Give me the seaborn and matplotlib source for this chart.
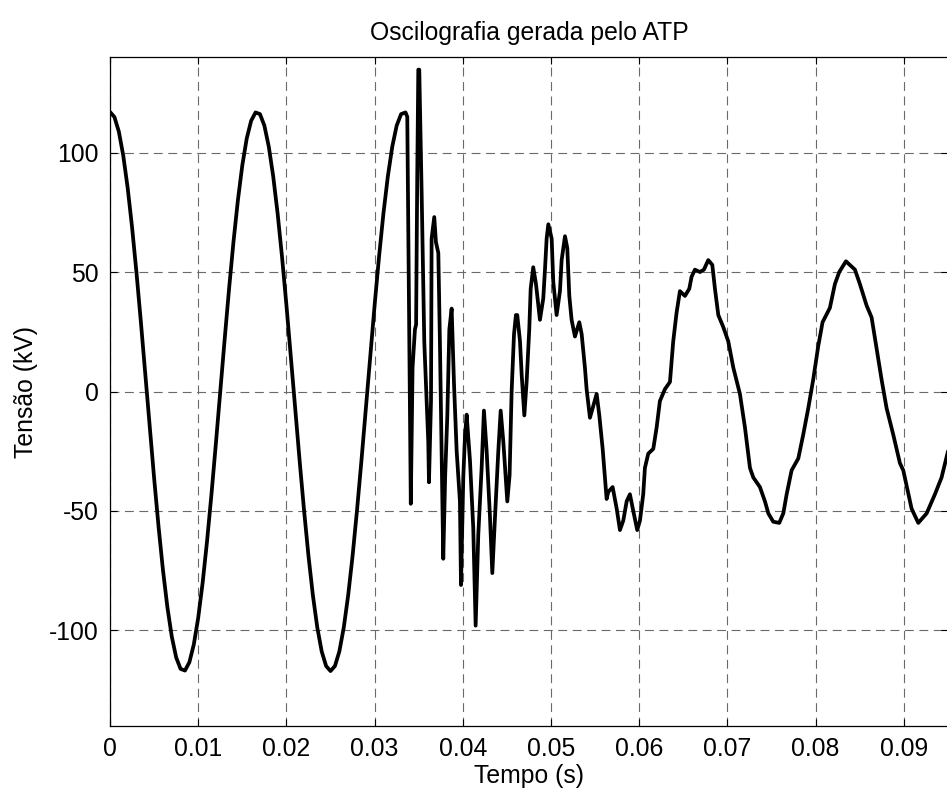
import matplotlib
matplotlib.use("Agg")
import matplotlib.pyplot as plt
import seaborn as sns
import pandas as pd

# ---- data ----
# steady-state part (0 .. 0.0335 s), sampled every 0.5 ms
t_pre = [0.0000, 0.0005, 0.0010, 0.0015, 0.0020, 0.0025, 0.0030, 0.0035, 0.0040, 0.0045,
         0.0050, 0.0055, 0.0060, 0.0065, 0.0070, 0.0075, 0.0080, 0.0085, 0.0090, 0.0095,
         0.0100, 0.0105, 0.0110, 0.0115, 0.0120, 0.0125, 0.0130, 0.0135, 0.0140, 0.0145,
         0.0150, 0.0155, 0.0160, 0.0165, 0.0170, 0.0175, 0.0180, 0.0185, 0.0190, 0.0195,
         0.0200, 0.0205, 0.0210, 0.0215, 0.0220, 0.0225, 0.0230, 0.0235, 0.0240, 0.0245,
         0.0250, 0.0255, 0.0260, 0.0265, 0.0270, 0.0275, 0.0280, 0.0285, 0.0290, 0.0295,
         0.0300, 0.0305, 0.0310, 0.0315, 0.0320, 0.0325, 0.0330, 0.0335]
v_pre = [117.0, 114.9, 108.8, 98.8, 85.3, 68.8, 49.8, 29.1, 7.3, -14.7,
         -36.2, -56.4, -74.6, -90.1, -102.5, -111.3, -116.1, -116.8, -113.3, -105.9,
         -94.7, -80.1, -62.7, -43.1, -21.9, 0.0, 21.9, 43.1, 62.7, 80.1,
         94.7, 105.9, 113.3, 116.8, 116.1, 111.3, 102.5, 90.1, 74.6, 56.4,
         36.2, 14.7, -7.3, -29.1, -49.8, -68.8, -85.3, -98.8, -108.8, -114.9,
         -117.0, -114.9, -108.8, -98.8, -85.3, -68.8, -49.8, -29.1, -7.3, 14.7,
         36.2, 56.4, 74.6, 90.1, 102.5, 111.3, 116.1, 116.8]

# fault transient (0.0337 .. 0.095 s)
t_post = [0.0337, 0.0341, 0.0343, 0.03457, 0.0347, 0.03483, 0.03495, 0.03506, 0.03533, 0.03563,
          0.03585, 0.03608, 0.03616, 0.03639, 0.03646, 0.03676, 0.03695, 0.03722, 0.0374, 0.03778,
          0.0380, 0.03824, 0.03847, 0.03873, 0.0390, 0.0393, 0.03967, 0.03979, 0.04005, 0.04024,
          0.04043, 0.04081, 0.04118, 0.04145, 0.04175, 0.04213, 0.04239, 0.0427, 0.04307, 0.04334,
          0.04364, 0.04402, 0.04429, 0.04459, 0.04504, 0.0453, 0.04553, 0.04580, 0.04602, 0.04617,
          0.04648, 0.04667, 0.04697, 0.04723, 0.04753, 0.04769, 0.04798, 0.04829, 0.04874, 0.04912,
          0.04931, 0.0495, 0.04969, 0.05007, 0.05025, 0.05063, 0.05101, 0.0512, 0.05158, 0.05184,
          0.05207, 0.05233, 0.05271, 0.0532, 0.05347, 0.05384, 0.05403, 0.05441, 0.05479, 0.05517,
          0.05547, 0.05585, 0.05611, 0.0563, 0.05649, 0.05698, 0.05744, 0.05781, 0.05819, 0.05857,
          0.05894, 0.05932, 0.05977, 0.06008, 0.06045, 0.06064, 0.06102, 0.06159, 0.06197, 0.06234,
          0.06291, 0.06348, 0.06385, 0.06423, 0.06461, 0.06518, 0.06567, 0.06593, 0.06631, 0.06688,
          0.06733, 0.06782, 0.06828, 0.06858, 0.06896, 0.06952, 0.07009, 0.07066, 0.07141, 0.07198,
          0.07255, 0.07293, 0.07368, 0.07425, 0.07463, 0.07519, 0.07587, 0.07633, 0.07671, 0.07727,
          0.07803, 0.07859, 0.07916, 0.07972, 0.08029, 0.08078, 0.08161, 0.08218, 0.08267, 0.08343,
          0.08445, 0.08501, 0.08577, 0.08634, 0.08691, 0.08747, 0.08804, 0.08879, 0.08955, 0.08993,
          0.09087, 0.09163, 0.09258, 0.09352, 0.09427, 0.0950]
v_post = [115.0, -47.0, 10.0, 26.0, 28.0, 90.0, 134.7, 134.7, 83.0, 20.6,
          0.0, -21.0, -38.0, -4.0, 64.0, 73.0, 62.5, 58.0, 21.0, -70.0,
          -35.0, -10.0, 26.0, 34.7, 3.0, -25.0, -46.0, -81.0, -36.0, -19.0,
          -9.7, -29.0, -57.0, -98.0, -60.0, -32.0, -8.0, -25.0, -52.0, -76.0,
          -53.0, -25.0, -8.0, -21.0, -46.0, -35.0, 0.0, 24.0, 32.0, 32.0,
          21.0, 7.0, -10.0, 4.0, 26.0, 43.0, 52.0, 45.0, 30.0, 39.0,
          51.0, 64.0, 70.0, 64.0, 46.0, 32.0, 42.0, 55.0, 65.0, 60.0,
          40.0, 30.0, 23.0, 29.0, 24.0, 10.0, 1.0, -11.0, -6.0, -1.0,
          -10.0, -24.0, -36.0, -45.0, -42.0, -40.0, -49.0, -58.0, -54.0, -46.0,
          -43.0, -50.0, -58.0, -54.0, -43.0, -32.0, -26.0, -24.0, -15.0, -4.0,
          1.0, 4.0, 21.0, 33.0, 42.0, 40.0, 43.0, 48.0, 51.0, 50.0,
          51.0, 55.0, 53.0, 43.0, 32.0, 27.0, 21.0, 10.0, -1.0, -15.0,
          -32.0, -36.0, -40.0, -46.0, -51.0, -54.5, -55.0, -51.0, -43.0, -33.0,
          -28.0, -18.0, -7.0, 5.0, 19.0, 29.0, 35.0, 45.0, 50.0, 54.5,
          51.0, 45.0, 36.0, 31.0, 18.0, 5.0, -7.0, -18.0, -30.0, -33.0,
          -49.0, -55.0, -51.0, -43.0, -36.0, -25.0]

x_ticks = [0.0, 0.01, 0.02, 0.03, 0.04, 0.05, 0.06, 0.07, 0.08, 0.09]
x_tick_labels = ["0", "0.01", "0.02", "0.03", "0.04", "0.05", "0.06", "0.07", "0.08", "0.09"]
y_ticks = [-100, -50, 0, 50, 100]
y_tick_labels = ["-100", "-50", "0", "50", "100"]

title = "Oscilografia gerada pelo ATP"
x_label = "Tempo (s)"
y_label = "Tensão (kV)"

# ---- figure ----
sns.set_style("white")
plt.rcParams["font.family"] = ["Liberation Sans", "DejaVu Sans"]
plt.rcParams["xtick.direction"] = "in"
plt.rcParams["ytick.direction"] = "in"

df = pd.DataFrame({"t": t_pre + t_post, "v": v_pre + v_post})

W, H = 947, 793
fig = plt.figure(figsize=(W / 100, H / 100), dpi=100)
left, right, top, bottom = 110, 948, 57, 726
ax = fig.add_axes([left / W, (H - bottom) / H, (right - left) / W, (bottom - top) / H])

sns.lineplot(data=df, x="t", y="v", ax=ax, color="black", linewidth=2.7,
             estimator=None, sort=False, zorder=3)

ax.set_xlim(0, 0.095)
ax.set_ylim(-140, 140)
ax.set_xticks(x_ticks)
ax.set_xticklabels(x_tick_labels)
ax.set_yticks(y_ticks)
ax.set_yticklabels(y_tick_labels)

fs = 17.8
ax.tick_params(axis="both", which="major", labelsize=fs, length=5, width=0.8,
               color="black", labelcolor="black", top=True, right=True,
               bottom=True, left=True, pad=8)
for s in ax.spines.values():
    s.set_visible(True)
    s.set_color("black")
    s.set_linewidth(0.9)

ax.grid(True, color="#6a6a6a", linewidth=0.8, linestyle=(0, (8, 5)), zorder=0)
ax.set_axisbelow(True)

ax.set_title(title, fontsize=fs, pad=12, color="black")
ax.set_xlabel(x_label, fontsize=fs, labelpad=2, color="black")
ax.set_ylabel(y_label, fontsize=fs, labelpad=8, color="black")

fig.savefig("out.png", dpi=100)
